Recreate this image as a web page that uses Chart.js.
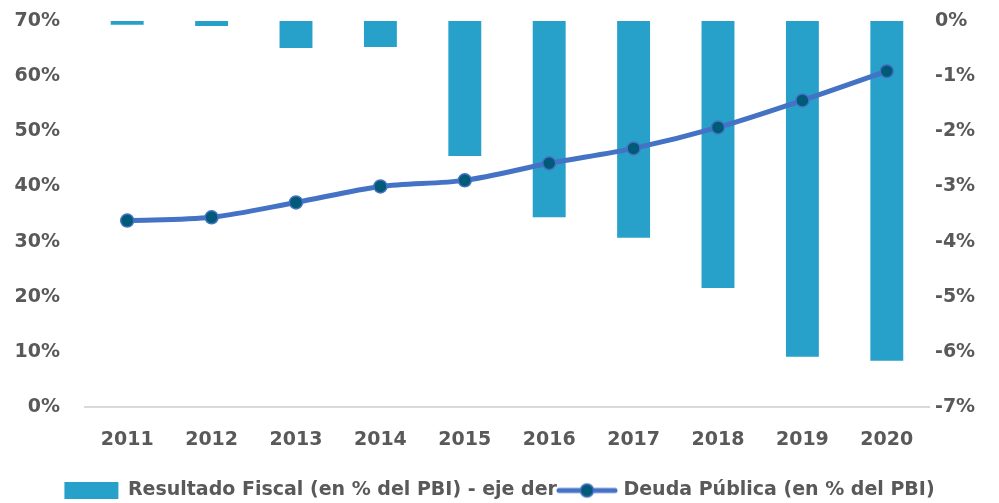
<!DOCTYPE html>
<html>
<head>
<meta charset="utf-8">
<script src="https://cdn.jsdelivr.net/npm/chart.js@4.4.0/dist/chart.umd.min.js"></script>
<style>
    html, body { margin: 0; padding: 0; background: #fff; }
    #contenedor { width: 999px; height: 503px; }
</style>
</head>
<body>
<div id="contenedor"><canvas id="graficoDeuda"></canvas></div>
<script>
// datos
const anios = ['2011', '2012', '2013', '2014', '2015', '2016', '2017', '2018', '2019', '2020'];
const resultadoFiscal = [-0.07, -0.09, -0.49, -0.47, -2.45, -3.56, -3.93, -4.84, -6.09, -6.16];
const deudaPublica = [33.8, 34.4, 37.1, 40.0, 41.1, 44.2, 46.9, 50.7, 55.6, 60.9];

const colorBarra = '#27A1C9';
const colorLinea = '#4472C4';
const colorPunto = '#005A78';
const colorTexto = '#595959';
const fuente = { family: 'DejaVu Sans', size: 19, weight: 'bold' };

// icono de la leyenda para la linea (linea con punto)
const iconoLinea = document.createElement('canvas');
iconoLinea.width = 62;
iconoLinea.height = 18;
(function () {
    const c = iconoLinea.getContext('2d');
    c.strokeStyle = colorLinea;
    c.lineWidth = 5;
    c.lineCap = 'round';
    c.beginPath();
    c.moveTo(3, 9);
    c.lineTo(59, 9);
    c.stroke();
    c.beginPath();
    c.arc(31, 9, 6.5, 0, Math.PI * 2);
    c.fillStyle = colorPunto;
    c.fill();
    c.lineWidth = 1.5;
    c.stroke();
})();

// sin margen extra arriba/abajo de los ejes verticales
function ajustarVertical(ancho) {
    return function (escala) {
        escala.width = ancho;
        escala.paddingTop = 0;
        escala.paddingBottom = 0;
    };
}

new Chart(document.getElementById('graficoDeuda').getContext('2d'), {
    data: {
        labels: anios,
        datasets: [{
            type: 'bar',
            label: 'Resultado Fiscal (en % del PBI) - eje der',
            data: resultadoFiscal,
            yAxisID: 'y1',
            backgroundColor: colorBarra,
            borderWidth: 0,
            barPercentage: 0.39,
            categoryPercentage: 1,
            order: 2
        }, {
            type: 'line',
            label: 'Deuda Pública (en % del PBI)',
            data: deudaPublica,
            yAxisID: 'y',
            borderColor: colorLinea,
            borderWidth: 5,
            tension: 0.3,
            pointRadius: 6.5,
            pointBackgroundColor: colorPunto,
            pointBorderColor: colorLinea,
            pointBorderWidth: 1.5,
            pointStyle: 'circle',
            order: 1
        }]
    },
    options: {
        responsive: true,
        maintainAspectRatio: false,
        animation: false,
        layout: {
            padding: { top: 21, left: 0, right: 0, bottom: -7 }
        },
        plugins: {
            tooltip: { enabled: false },
            legend: {
                position: 'bottom',
                labels: {
                    usePointStyle: true,
                    pointStyleWidth: 54,
                    boxHeight: 17,
                    color: colorTexto,
                    font: fuente,
                    padding: 3,
                    generateLabels: function (chart) {
                        return chart.data.datasets.map(function (ds, i) {
                            return {
                                text: ds.label,
                                datasetIndex: i,
                                fillStyle: i === 0 ? colorBarra : colorPunto,
                                strokeStyle: i === 0 ? colorBarra : colorLinea,
                                lineWidth: 0,
                                fontColor: colorTexto,
                                pointStyle: i === 0 ? 'rect' : iconoLinea,
                                hidden: false
                            };
                        });
                    }
                }
            }
        },
        scales: {
            x: {
                grid: { display: false, drawTicks: false },
                border: { display: true, color: '#D9D9D9', width: 2 },
                ticks: { color: colorTexto, font: fuente, padding: 22 },
                afterFit: function (escala) { escala.height = 71; }
            },
            y: {
                position: 'left',
                min: 0,
                max: 70,
                grid: { display: false, drawTicks: false },
                border: { display: false },
                ticks: {
                    stepSize: 10,
                    color: colorTexto,
                    font: fuente,
                    padding: 25,
                    callback: function (v) { return v + '%'; }
                },
                afterFit: ajustarVertical(85)
            },
            y1: {
                position: 'right',
                min: -7,
                max: 0,
                grid: { display: false, drawTicks: false },
                border: { display: false },
                ticks: {
                    stepSize: 1,
                    color: colorTexto,
                    font: fuente,
                    padding: 6,
                    callback: function (v) { return v + '%'; }
                },
                afterFit: ajustarVertical(70)
            }
        }
    }
});
</script>
</body>
</html>
